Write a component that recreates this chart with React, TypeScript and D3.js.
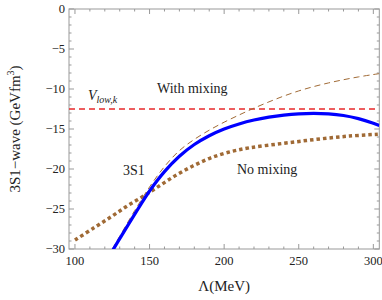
import React from "react";
import * as d3 from "d3";

const xTicks = [100, 150, 200, 250, 300];
const yTicks = [0, -5, -10, -15, -20, -25, -30];

const blueL = [125, 130, 140, 150, 160, 170, 180, 190, 200, 210, 220, 230, 240, 250, 260, 270, 280, 290, 300, 304];
const blueV = [-30.26, -28.71, -25.66, -22.75, -20.33, -18.41, -16.94, -15.84, -15.0, -14.37, -13.88, -13.52, -13.26, -13.1, -13.04, -13.1, -13.31, -13.7, -14.27, -14.55];

const mixL = [125, 130, 140, 150, 160, 170, 180, 190, 200, 210, 218.7, 230, 240, 250, 260, 270, 280, 290, 300, 304];
const mixV = [-30.0, -28.41, -25.21, -22.25, -19.7, -17.7, -16.3, -15.15, -14.15, -13.25, -12.5, -11.61, -10.88, -10.24, -9.7, -9.24, -8.84, -8.49, -8.19, -8.08];

const noMixL = [100, 112, 124, 135, 146, 157, 168, 179, 190, 202, 217, 240, 262, 284, 303];
const noMixV = [-28.88, -27.44, -26.0, -24.63, -23.38, -22.06, -20.75, -19.63, -18.69, -17.95, -17.35, -16.79, -16.29, -15.88, -15.66];

const vlowk = -12.5;

const W = 382, H = 300;
const L = 69, R = 379.3, T = 9, B = 249;

export default function App() {
  const x = d3.scaleLinear().domain([96, 304]).range([L, R]);
  const y = d3.scaleLinear().domain([0, -30]).range([T, B]);
  const line = d3.line<[number, number]>().x(d => x(d[0])).y(d => y(d[1])).curve(d3.curveCatmullRom.alpha(0.5));
  const zip = (a: number[], b: number[]) => a.map((v, i) => [v, b[i]] as [number, number]);

  const xMinor = d3.range(100, 301, 10);
  const yMinor = d3.range(0, -31, -1);
  const axisCol = "#999";
  const font = "'Liberation Serif', 'Times New Roman', serif";
  const brown = "#a06a35";

  return (
    <svg width={W} height={H} style={{ position: "absolute", left: 0, top: 0 }} fontFamily={font}>
      <rect width={W} height={H} fill="#fff" />
      <defs>
        <clipPath id="clip">
          <rect x={L} y={T} width={R - L} height={B - T} />
        </clipPath>
      </defs>
      <rect x={L} y={T} width={R - L} height={B - T} fill="none" stroke={axisCol} strokeWidth={1} />
      {xMinor.map(v => {
        const major = v % 50 === 0;
        const len = major ? 5 : 2.5;
        return (
          <g key={"x" + v}>
            <line x1={x(v)} x2={x(v)} y1={B} y2={B - len} stroke={axisCol} />
            <line x1={x(v)} x2={x(v)} y1={T} y2={T + len} stroke={axisCol} />
          </g>
        );
      })}
      {yMinor.map(v => {
        const major = v % 5 === 0;
        const len = major ? 5 : 2.5;
        return (
          <g key={"y" + v}>
            <line x1={L} x2={L + len} y1={y(v)} y2={y(v)} stroke={axisCol} />
            <line x1={R} x2={R - len} y1={y(v)} y2={y(v)} stroke={axisCol} />
          </g>
        );
      })}
      {xTicks.map(v => (
        <text key={"xl" + v} x={x(v)} y={B + 16} fontSize={12.5} textAnchor="middle" fill="#222">{v}</text>
      ))}
      {yTicks.map(v => (
        <text key={"yl" + v} x={L - 4} y={y(v) + 4} fontSize={12.5} textAnchor="end" fill="#222">{v === 0 ? "0" : "\u2212" + Math.abs(v)}</text>
      ))}
      <text x={(L + R) / 2} y={291} fontSize={15} textAnchor="middle" fill="#222">Λ(MeV)</text>
      <text transform={`translate(20, ${(T + B) / 2}) rotate(-90)`} fontSize={15} textAnchor="middle" fill="#222">
        3S1−wave (GeVfm<tspan dy={-6} fontSize={10}>3</tspan><tspan dy={6}>)</tspan>
      </text>

      <g clipPath="url(#clip)">
        <line x1={L} x2={R} y1={y(vlowk)} y2={y(vlowk)} stroke="#e8282a" strokeWidth={1.3} strokeDasharray="6,4" />
        <path d={line(zip(noMixL, noMixV)) || ""} fill="none" stroke={brown} strokeWidth={3.5} strokeDasharray="3.5,3" />
        <path d={line(zip(mixL, mixV)) || ""} fill="none" stroke={brown} strokeWidth={1} strokeDasharray="6,4" />
        <path d={line(zip(blueL, blueV)) || ""} fill="none" stroke="#0000ff" strokeWidth={3.2} />
      </g>

      <text x={88} y={100} fontSize={14} fill="#222" fontStyle="italic">V<tspan dy={3} fontSize={10}>low,k</tspan></text>
      <text x={157} y={93} fontSize={14} fill="#222">With mixing</text>
      <text x={123} y={175} fontSize={14} fill="#222">3S1</text>
      <text x={237} y={174} fontSize={14} fill="#222">No mixing</text>
    </svg>
  );
}
